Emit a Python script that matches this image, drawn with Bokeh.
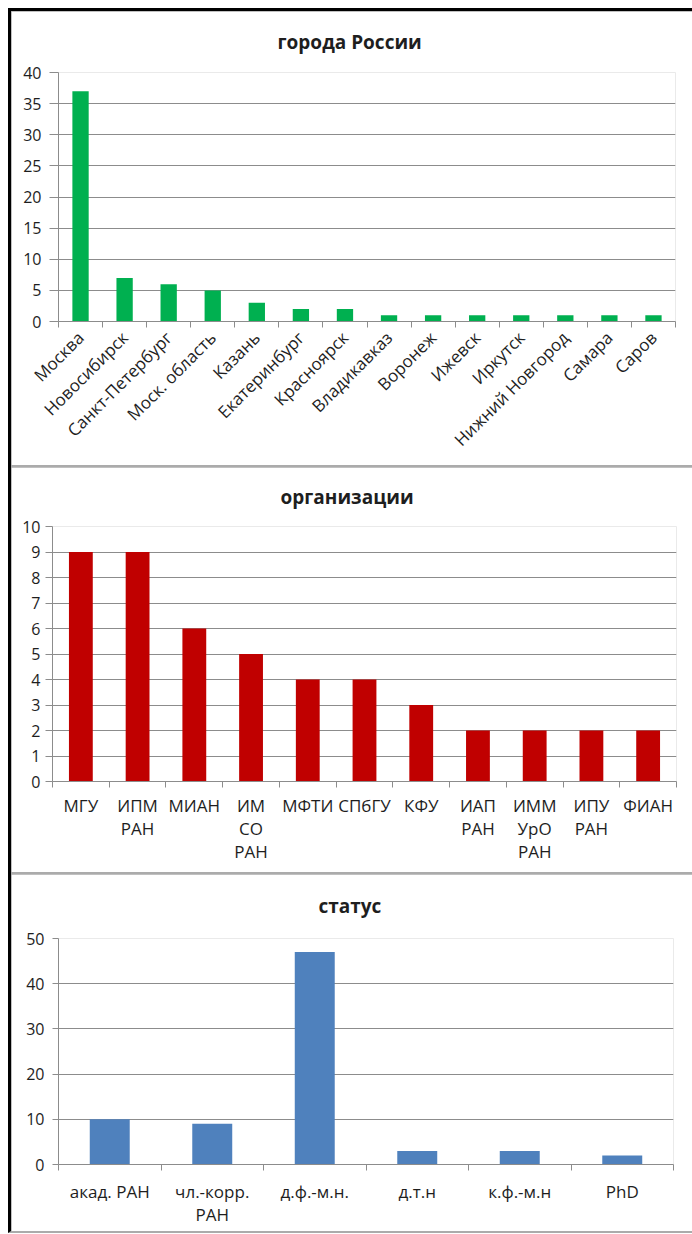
import math
from bokeh.plotting import figure
from bokeh.models import FixedTicker, Range1d
from bokeh.layouts import column, row
from bokeh.embed import file_html
from bokeh.resources import INLINE

# ---- data ----
cities = ["Москва", "Новосибирск", "Санкт-Петербург", "Моск. область", "Казань",
          "Екатеринбург", "Красноярск", "Владикавказ", "Воронеж", "Ижевск",
          "Иркутск", "Нижний Новгород", "Самара", "Саров"]
city_counts = [37, 7, 6, 5, 3, 2, 2, 1, 1, 1, 1, 1, 1, 1]
city_ticks = [0, 5, 10, 15, 20, 25, 30, 35, 40]

orgs = ["МГУ", "ИПМ\nРАН", "МИАН", "ИМ\nСО\nРАН", "МФТИ", "СПбГУ", "КФУ",
        "ИАП\nРАН", "ИММ\nУрО\nРАН", "ИПУ\nРАН", "ФИАН"]
org_counts = [9, 9, 6, 5, 4, 4, 3, 2, 2, 2, 2]
org_ticks = [0, 1, 2, 3, 4, 5, 6, 7, 8, 9, 10]

statuses = ["акад. РАН", "чл.-корр.\nРАН", "д.ф.-м.н.", "д.т.н", "к.ф.-м.н", "PhD"]
status_counts = [10, 9, 47, 3, 3, 2]
status_ticks = [0, 10, 20, 30, 40, 50]

FONT = "Open Sans"
GRID = "#8c8c8c"
TXT = "#1e1e1e"
W = 681


def panel(title, cats, vals, yticks, color, height, mb, bar_w, xfs, angle, std,
          title_offset, title_standoff, ytick_out, ystd):
    n = len(cats)
    xs = list(range(n))
    p = figure(width=W, height=height, output_backend="svg", toolbar_location=None, tools="",
               x_range=Range1d(-0.5, n - 0.5), y_range=Range1d(yticks[0], yticks[-1]),
               min_border_left=mb[0], min_border_right=mb[1], min_border_top=mb[2],
               min_border_bottom=mb[3])
    p.vbar(x=xs, top=vals, width=bar_w, fill_color=color, line_color=None)

    p.title.text = title
    p.title.align = "left"
    p.title.offset = title_offset
    p.title.standoff = title_standoff
    p.title.vertical_align = "top"
    p.title.text_font = FONT
    p.title.text_font_size = "19px"
    p.title.text_font_style = "bold"
    p.title.text_color = TXT
    p.outline_line_color = None
    p.xgrid.visible = False
    p.ygrid.grid_line_color = GRID
    p.ygrid.ticker = FixedTicker(ticks=yticks)

    p.yaxis.ticker = FixedTicker(ticks=yticks)
    p.yaxis.axis_line_color = GRID
    p.yaxis.major_tick_line_color = GRID
    p.yaxis.major_tick_out = ytick_out
    p.yaxis.major_tick_in = 0
    p.yaxis.minor_tick_line_color = None
    p.yaxis.major_label_text_font = FONT
    p.yaxis.major_label_text_font_size = "16px"
    p.yaxis.major_label_text_color = TXT
    p.yaxis.major_label_standoff = ystd

    xax = p.below[0]
    xax.ticker = FixedTicker(ticks=xs, minor_ticks=[i - 0.5 for i in range(n + 1)])
    xax.major_label_overrides = {i: c for i, c in enumerate(cats)}
    xax.axis_line_color = GRID
    xax.major_tick_line_color = None
    xax.major_tick_out = 0
    xax.major_tick_in = 0
    xax.minor_tick_line_color = GRID
    xax.minor_tick_out = 6
    xax.minor_tick_in = 0
    xax.major_label_text_font = FONT
    xax.major_label_text_font_size = xfs
    xax.major_label_text_color = TXT
    xax.major_label_standoff = std
    xax.major_label_text_line_height = 1.0
    if angle:
        xax.major_label_orientation = angle
    p.background_fill_color = "white"
    p.border_fill_color = "white"
    return p


p1 = panel("города России", cities, city_counts, city_ticks, "#00B050", 454,
           (47, 17, 61, 144), 0.37, "17px", math.pi / 4, 7, 219, 32, 9, 8)
p2 = panel("организации", orgs, org_counts, org_ticks, "#C00000", 405,
           (41, 16, 59, 91), 0.42, "17px", None, 6, 228, 30, 7, 5)
p3 = panel("статус", statuses, status_counts, status_ticks, "#4F81BD", 357,
           (47, 19, 64, 67), 0.39, "17px", None, 9, 260, 35, 6, 8)

layout = column(row(p1), row(p2), row(p3), spacing=2,
                styles={"background-color": "#ababab",
                        "margin-left": "8px",
                        "margin-top": "8px",
                        "border-left": "3px solid black",
                        "border-top": "3px solid black",
                        "border-bottom": "2px solid #ababab"})

open("out.html", "w").write(file_html(layout, INLINE))
